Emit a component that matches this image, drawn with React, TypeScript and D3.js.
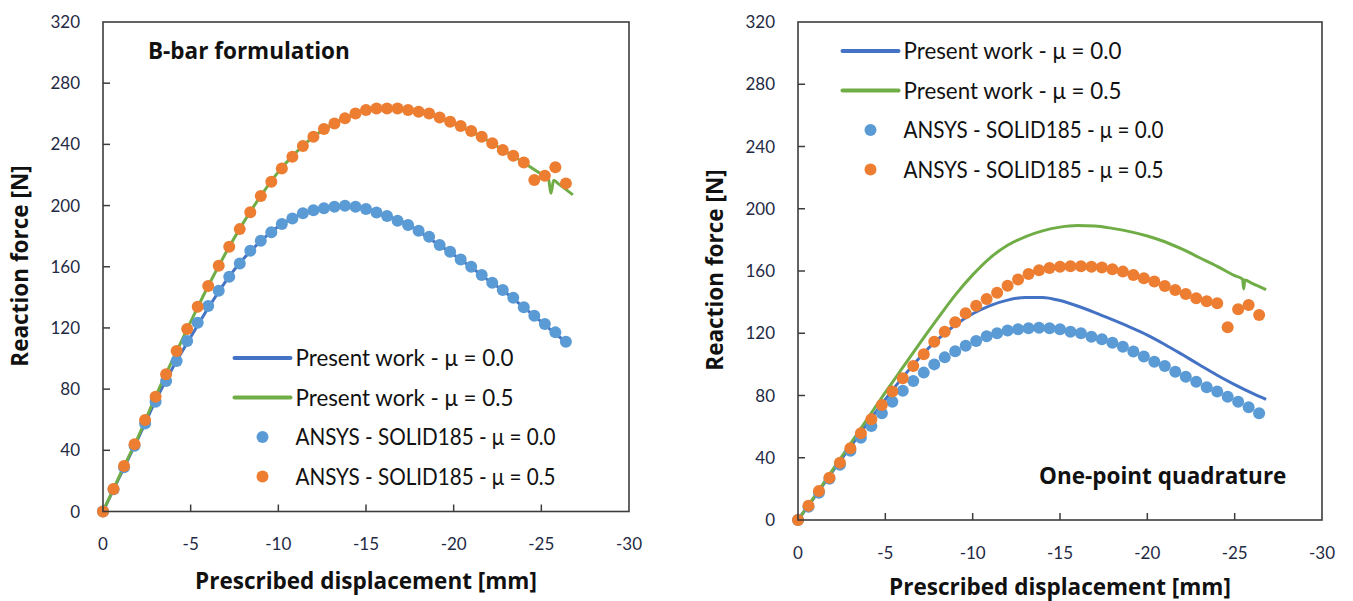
import React from "react";
import * as d3 from "d3";

// Displacement steps of the ANSYS SOLID185 runs [mm]
const ansysDisp = [
  0, -0.6, -1.2, -1.8, -2.4, -3, -3.6, -4.2, -4.8, -5.4, -6, -6.6, -7.2, -7.8, -8.4,
  -9, -9.6, -10.2, -10.8, -11.4, -12, -12.6, -13.2, -13.8, -14.4, -15, -15.6, -16.2,
  -16.8, -17.4, -18, -18.6, -19.2, -19.8, -20.4, -21, -21.6, -22.2, -22.8, -23.4,
  -24, -24.6, -25.2, -25.8, -26.4,
];

// B-bar formulation — reaction force [N]
const bbarAnsysMu00 = [
  0, 14.5, 29, 43, 57.5, 71.8, 85.3, 98.4, 111.4, 123.4, 134.3, 144.3, 153.5, 162.2,
  170.5, 177, 182.5, 187.9, 191.6, 194.9, 197, 198.2, 199.2, 199.9, 199.2, 197.7,
  195.5, 193.1, 190, 187.3, 183.5, 179.6, 174.2, 169.8, 164.8, 160, 154.6, 149.5,
  144.8, 139.7, 133.5, 128, 122.5, 117.1, 111,
];
const bbarAnsysMu05 = [
  0, 14.7, 29.7, 43.9, 59.8, 75, 89.7, 104.9, 119.3, 133.9, 147.4, 160.7, 173, 184.6,
  195.7, 206.2, 215.6, 224.3, 231.9, 238.9, 245, 250, 253.7, 257, 260.2, 262.4, 263.5,
  263.5, 263.5, 262.4, 261.3, 260.2, 257.6, 254.8, 252, 248.7, 245, 240.7, 236.3,
  232.6, 228.2, 216.7, 219.5, 225, 214.5,
];
const bbarPresentMu00Disp = [
  0, -1, -2, -3, -4, -5, -6, -7, -8, -9, -10, -11, -12, -13, -14, -15, -16, -17, -18,
  -19, -20, -21, -22, -23, -24, -25, -26, -26.4,
];
const bbarPresentMu00 = [
  0, 24, 47.6, 72.5, 94.5, 114, 133, 150.5, 165, 176.8, 186.3, 192.8, 197, 199, 199.8,
  197.7, 193.8, 189.8, 183.3, 175.6, 167.9, 159.7, 151, 142.8, 133.4, 124, 114.4, 111,
];
const bbarPresentMu05Disp = [
  0, -1, -2, -3, -4, -5, -6, -7, -8, -9, -10, -11, -12, -13, -14, -15, -16, -17, -18,
  -19, -20, -21, -22, -23, -24, -25, -25.4, -25.55, -25.7, -26, -26.8,
];
const bbarPresentMu05 = [
  0, 24.8, 48.6, 75.3, 100, 124, 147.4, 169, 188.7, 206.3, 222, 234.6, 245, 252.6,
  258, 262.4, 263.5, 263.2, 261.2, 258.3, 253.7, 248.5, 242, 235, 228, 220.5, 217.8,
  208, 216.5, 214, 207,
];

// One-point quadrature — reaction force [N]
const quadAnsysMu00 = [
  0, 8.5, 17.5, 26.5, 35.5, 44.5, 52.9, 60.4, 68.6, 76, 83.1, 89.3, 94.7, 100, 104.5,
  108.5, 112, 115, 118, 120, 121.7, 122.6, 123.2, 123.6, 123.2, 122.6, 121, 120, 117.8,
  116.1, 113.9, 111.4, 108.2, 105, 101.7, 99, 95.3, 92.1, 88.9, 85.3, 82.5, 79.2, 76,
  72.4, 68.6,
];
const quadAnsysMu05 = [
  0, 9.2, 18.6, 27.2, 36.8, 46.1, 55.7, 64.7, 73.9, 82.5, 91.1, 99, 106.5, 114.6, 121,
  127, 132.8, 137.7, 142, 146, 150.5, 154.5, 158, 160.5, 162, 162.8, 163, 163, 162.8,
  162.2, 161.1, 159.6, 157.5, 155.3, 153.2, 150.4, 147.8, 145.2, 142.5, 140.5, 139.3,
  123.8, 135.4, 138.2, 131.7,
];
const quadPresentMu00Disp = [
  0, -1, -2, -3, -4, -5, -6, -7, -8, -9, -10, -11, -12, -13, -14, -15, -16, -17, -18,
  -19, -20, -21, -22, -23, -24, -25, -26, -26.8,
];
const quadPresentMu00 = [
  0, 15.5, 31.5, 47, 62.5, 77.5, 91.8, 104.8, 116, 125.3, 132.5, 137.8, 141.3, 143,
  143, 141, 137.5, 133.3, 128.7, 123.9, 118.8, 112.8, 106.3, 99.6, 93, 87, 81.5, 77.5,
];
const quadPresentMu05Disp = [
  0, -1, -2, -3, -4, -5, -6, -7, -8, -9, -10, -11, -12, -13, -14, -15, -16, -17, -18,
  -19, -20, -21, -22, -23, -24, -25, -25.45, -25.52, -25.58, -26, -26.8,
];
const quadPresentMu05 = [
  0, 16, 32.5, 49, 65.5, 82, 98, 114, 129.5, 144.5, 157.5, 168.5, 176.5, 182, 185.8,
  188.2, 189.2, 188.9, 187.4, 185.3, 182.5, 178.8, 174, 168.5, 163, 157, 154.8, 148.5,
  154.2, 152, 148,
];

const xTicks = [0, -5, -10, -15, -20, -25, -30];
const yTicks = [0, 40, 80, 120, 160, 200, 240, 280, 320];

const legendLabels = [
  "Present work - μ = 0.0",
  "Present work - μ = 0.5",
  "ANSYS - SOLID185 - μ = 0.0",
  "ANSYS - SOLID185 - μ = 0.5",
];
// rendered run length of each legend label [px]
const legendWidths = [218, 218, 260, 260];

const C = {
  lineMu00: "#4472C4",
  lineMu05: "#70AD47",
  dotMu00: "#5B9BD5",
  dotMu05: "#ED7D31",
  frame: "#3c3c3c",
  tick: "#1f2a44",
};

const FONT = "Lato, 'Open Sans', sans-serif";
const BOLD_FONT = "'Open Sans', Lato, sans-serif";

type Pt = [number, number];
const zip = (xs: number[], ys: number[]): Pt[] => xs.map((x, i) => [x, ys[i]]);

interface PanelProps {
  left: number;
  right: number;
  top: number;
  bottom: number;
  title: string;
  titleX: number;
  titleY: number;
  legendX: number;
  legendY: number;
  yTitleX: number;
  yTitleY: number;
  xTitleY: number;
  mu00Line: Pt[];
  mu05Line: Pt[];
  mu00Dots: Pt[];
  mu05Dots: Pt[];
}

function Panel(p: PanelProps) {
  const x = d3.scaleLinear().domain([0, -30]).range([p.left, p.right]);
  const y = d3.scaleLinear().domain([0, 320]).range([p.bottom, p.top]);
  const line = d3
    .line<Pt>()
    .x((d) => x(d[0]))
    .y((d) => y(d[1]))
    .curve(d3.curveMonotoneX);
  const tickLen = 7;
  const midX = (p.left + p.right) / 2;
  const rowGap = 39.5;

  return (
    <g>
      {/* series */}
      <path d={line(p.mu00Line) || ""} fill="none" stroke={C.lineMu00} strokeWidth={3} />
      <path d={line(p.mu05Line) || ""} fill="none" stroke={C.lineMu05} strokeWidth={3} />
      {p.mu00Dots.map((d, i) => (
        <circle key={"b" + i} cx={x(d[0])} cy={y(d[1])} r={6} fill={C.dotMu00} />
      ))}
      {p.mu05Dots.map((d, i) => (
        <circle key={"o" + i} cx={x(d[0])} cy={y(d[1])} r={6} fill={C.dotMu05} />
      ))}

      {/* frame and inward ticks */}
      <rect
        x={p.left}
        y={p.top}
        width={p.right - p.left}
        height={p.bottom - p.top}
        fill="none"
        stroke={C.frame}
        strokeWidth={1.6}
      />
      {xTicks.slice(1, -1).map((t) => (
        <line key={"xt" + t} x1={x(t)} x2={x(t)} y1={p.bottom} y2={p.bottom - tickLen} stroke={C.frame} strokeWidth={1.5} />
      ))}
      {yTicks.slice(1, -1).map((t) => (
        <line key={"yt" + t} x1={p.left} x2={p.left + tickLen} y1={y(t)} y2={y(t)} stroke={C.frame} strokeWidth={1.5} />
      ))}

      {/* tick labels */}
      {xTicks.map((t) => (
        <text key={"xl" + t} x={x(t)} y={p.bottom + 38.5} textAnchor="middle" fontSize={17} fill={C.tick} fontFamily={FONT}>
          {t}
        </text>
      ))}
      {yTicks.map((t) => (
        <text key={"yl" + t} x={p.left - 23} y={y(t)} dy="0.36em" textAnchor="end" fontSize={17} fill={C.tick} fontFamily={FONT}>
          {t}
        </text>
      ))}

      {/* axis titles */}
      <text x={midX} y={p.xTitleY} textAnchor="middle" fontSize={22.5} fontWeight="bold" fill="#111" fontFamily={BOLD_FONT}>
        Prescribed displacement [mm]
      </text>
      <text
        transform={`translate(${p.yTitleX},${p.yTitleY}) rotate(-90)`}
        textAnchor="middle"
        dy="0.36em"
        fontSize={22.5}
        fontWeight="bold"
        fill="#111"
        fontFamily={BOLD_FONT}
      >
        Reaction force [N]
      </text>

      {/* panel label */}
      <text x={p.titleX} y={p.titleY} fontSize={22.5} fontWeight="bold" fill="#111" fontFamily={BOLD_FONT}>
        {p.title}
      </text>

      {/* legend */}
      {legendLabels.map((lab, i) => {
        const cy = p.legendY + i * rowGap;
        const color = [C.lineMu00, C.lineMu05, C.dotMu00, C.dotMu05][i];
        return (
          <g key={lab}>
            {i < 2 ? (
              <line x1={p.legendX} x2={p.legendX + 56} y1={cy} y2={cy} stroke={color} strokeWidth={4} strokeLinecap="round" />
            ) : (
              <circle cx={p.legendX + 28} cy={cy} r={6} fill={color} />
            )}
            <text
              x={p.legendX + 61}
              y={cy}
              dy="0.36em"
              fontSize={22.5}
              fill="#111"
              fontFamily={FONT}
              textLength={legendWidths[i]}
              lengthAdjust="spacingAndGlyphs"
            >
              {lab}
            </text>
          </g>
        );
      })}
    </g>
  );
}

export default function App() {
  return (
    <svg
      width={1353}
      height={601}
      viewBox="0 0 1353 601"
      style={{ position: "absolute", left: 0, top: 0, background: "#fff" }}
    >
      <rect width={1353} height={601} fill="#fff" />
      <Panel
        left={103}
        right={629}
        top={22}
        bottom={511.5}
        title="B-bar formulation"
        titleX={148}
        titleY={59}
        legendX={234.5}
        legendY={358}
        yTitleX={20}
        yTitleY={266}
        xTitleY={589}
        mu00Line={zip(bbarPresentMu00Disp, bbarPresentMu00)}
        mu05Line={zip(bbarPresentMu05Disp, bbarPresentMu05)}
        mu00Dots={zip(ansysDisp, bbarAnsysMu00)}
        mu05Dots={zip(ansysDisp, bbarAnsysMu05)}
      />
      <Panel
        left={798}
        right={1322}
        top={22}
        bottom={520}
        title="One-point quadrature"
        titleX={1039}
        titleY={484}
        legendX={842.5}
        legendY={51}
        yTitleX={715}
        yTitleY={270}
        xTitleY={595}
        mu00Line={zip(quadPresentMu00Disp, quadPresentMu00)}
        mu05Line={zip(quadPresentMu05Disp, quadPresentMu05)}
        mu00Dots={zip(ansysDisp, quadAnsysMu00)}
        mu05Dots={zip(ansysDisp, quadAnsysMu05)}
      />
    </svg>
  );
}
